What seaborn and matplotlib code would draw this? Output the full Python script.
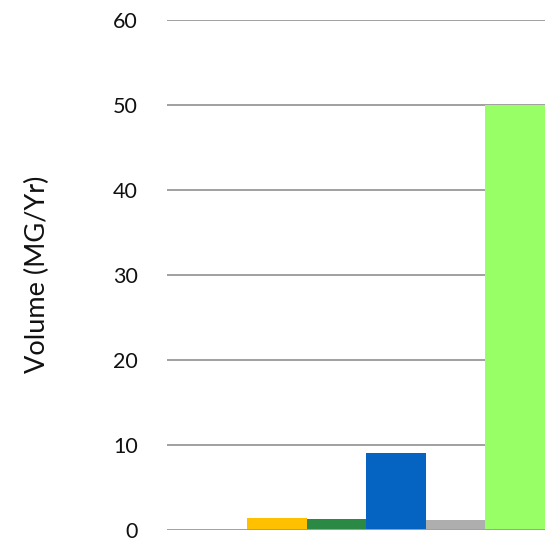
import matplotlib
matplotlib.use("Agg")
import matplotlib.pyplot as plt
import seaborn as sns
import pandas as pd

categories = ["A", "B", "C", "D", "E"]
volumes = [1.4, 1.25, 9.0, 1.1, 50.0]
colors = ["#FFC000", "#2A8A45", "#0563C1", "#AEAEAE", "#99FF66"]
y_ticks = [0, 10, 20, 30, 40, 50, 60]

df = pd.DataFrame({"category": categories, "volume": volumes})

sns.set_theme(style="white")
plt.rcParams["font.family"] = ["Lato", "DejaVu Sans"]

fig = plt.figure(figsize=(5.45, 5.39), dpi=100)
ax = fig.add_axes([0.3064, 0.0173, 0.6936, 0.9462])

sns.barplot(data=df, x="category", y="volume", hue="category",
            palette=colors, width=1.0, legend=False, ax=ax,
            saturation=1, linewidth=0, zorder=3)

ax.set_ylim(0, 60)
ax.set_xlim(-1.85, 4.5)
ax.set_yticks(y_ticks)
ax.set_yticklabels([str(t) for t in y_ticks], fontsize=15.5, color="#111111")
ax.set_xticks([])
ax.set_xlabel("")
ax.set_ylabel("Volume (MG/Yr)", fontsize=19.5, color="#111111", labelpad=0)
ax.yaxis.set_label_coords(-0.31, 0.5)

for t in y_ticks:
    ax.axhline(t, color="#A0A0A0", linewidth=1.4, zorder=1 if t else 4)

for s in ax.spines.values():
    s.set_visible(False)
ax.tick_params(axis="y", length=0, pad=21)

fig.savefig("out.png", dpi=100)
